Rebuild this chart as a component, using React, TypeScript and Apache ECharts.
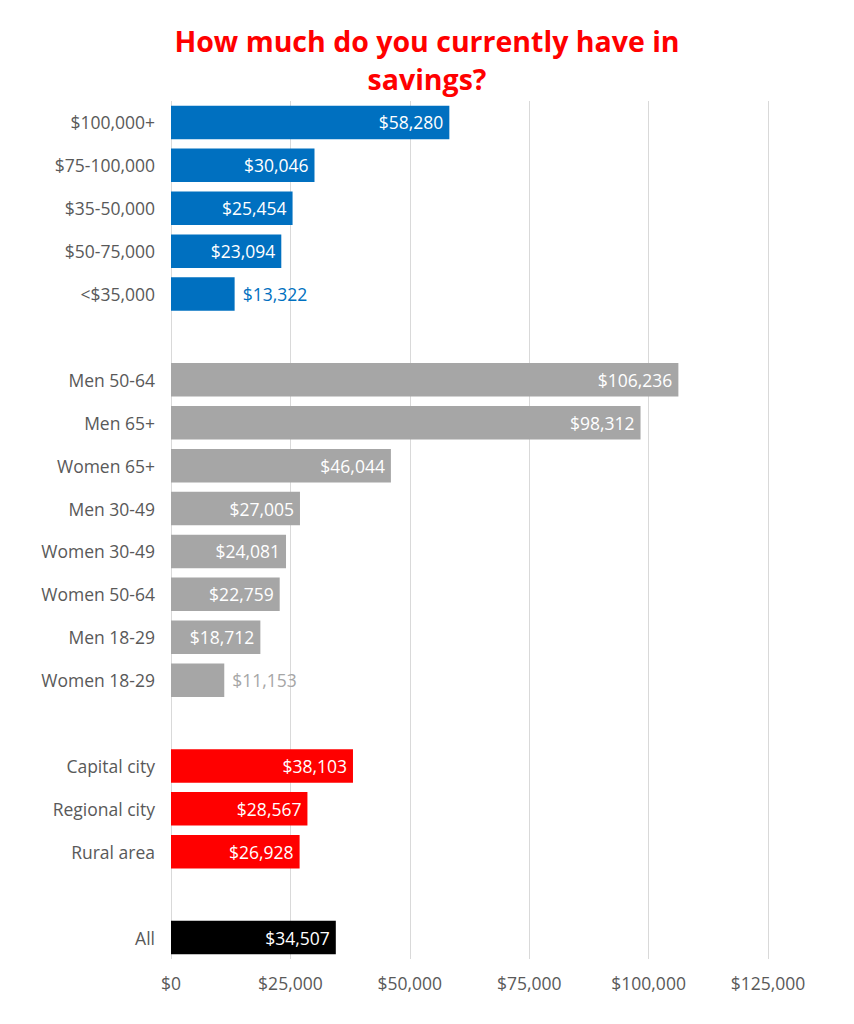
import React, { useEffect, useRef } from "react";
import * as echarts from "echarts";

const titleLines = ["How much do you currently have in", "savings?"];
const categories = [
  "$100,000+", "$75-100,000", "$35-50,000", "$50-75,000", "<$35,000",
  "",
  "Men 50-64", "Men 65+", "Women 65+", "Men 30-49", "Women 30-49", "Women 50-64", "Men 18-29", "Women 18-29",
  " ",
  "Capital city", "Regional city", "Rural area",
  "  ",
  "All",
];
const values: (number | null)[] = [
  58280, 30046, 25454, 23094, 13322,
  null,
  106236, 98312, 46044, 27005, 24081, 22759, 18712, 11153,
  null,
  38103, 28567, 26928,
  null,
  34507,
];
const groups = [
  "income", "income", "income", "income", "income",
  "",
  "gender", "gender", "gender", "gender", "gender", "gender", "gender", "gender",
  "",
  "area", "area", "area",
  "",
  "all",
];
const groupColors: Record<string, string> = {
  income: "#0070C0",
  gender: "#A6A6A6",
  area: "#FF0000",
  all: "#000000",
};
const xTicks = [0, 25000, 50000, 75000, 100000, 125000];

const FONT = "'Open Sans', sans-serif";
const FS = 17.5;
const fmt = (v: number) => "$" + v.toLocaleString("en-US");

export default function App() {
  const ref = useRef<HTMLDivElement>(null);
  useEffect(() => {
    const chart = echarts.init(ref.current!, null, { renderer: "svg" });
    const data = values.map((v, i) => {
      if (v == null) return { value: null };
      const color = groupColors[groups[i]];
      const small = v < 15000;
      return {
        value: v,
        itemStyle: { color },
        label: small
          ? { position: "right", color, distance: 8 }
          : { position: "insideRight", color: "#ffffff", distance: 6 },
      };
    });
    const titleStyle = {
      color: "#FF0000",
      fontSize: 28.5,
      lineHeight: 28,
      fontWeight: "bold",
      fontFamily: FONT,
    };
    chart.setOption({
      animation: false,
      title: [
        { text: titleLines[0], left: "center", top: 27, padding: 0, textStyle: titleStyle },
        { text: titleLines[1], left: "center", top: 65, padding: 0, textStyle: titleStyle },
      ],
      grid: { left: 171, right: 86, top: 101, bottom: 65, containLabel: false },
      xAxis: {
        type: "value",
        min: 0,
        max: xTicks[xTicks.length - 1],
        interval: 25000,
        axisLine: { show: false },
        axisTick: { show: false },
        splitLine: { show: true, lineStyle: { color: "#D9D9D9", width: 1 } },
        axisLabel: {
          color: "#595959",
          fontSize: FS,
          fontFamily: FONT,
          margin: 15,
          formatter: (v: number) => fmt(v),
        },
      },
      yAxis: {
        type: "category",
        data: categories,
        inverse: true,
        axisLine: { show: false },
        axisTick: { show: false },
        axisLabel: {
          color: "#595959",
          fontSize: FS,
          fontFamily: FONT,
          margin: 16,
        },
      },
      series: [
        {
          type: "bar",
          data,
          barCategoryGap: "22%",
          label: {
            show: true,
            fontSize: FS,
            fontFamily: FONT,
            formatter: (p: any) => (p.value == null ? "" : fmt(p.value)),
          },
        },
      ],
    });
    return () => chart.dispose();
  }, []);
  return <div ref={ref} style={{ width: 854, height: 1024, margin: -8 }} />;
}
